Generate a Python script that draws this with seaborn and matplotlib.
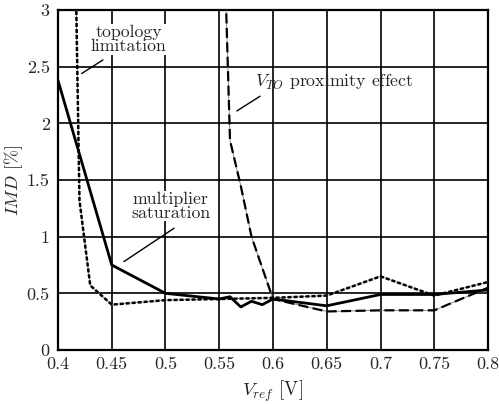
import matplotlib
matplotlib.use("Agg")
import matplotlib.pyplot as plt
import seaborn as sns
import pandas as pd

# Data
x_sat = [0.40, 0.45, 0.50, 0.55, 0.56, 0.57, 0.58, 0.59, 0.60, 0.65, 0.70, 0.75, 0.80]
y_sat = [2.38, 0.75, 0.50, 0.45, 0.47, 0.38, 0.43, 0.40, 0.45, 0.39, 0.49, 0.49, 0.53]

x_top = [0.41, 0.42, 0.43, 0.45, 0.50, 0.55, 0.60, 0.65, 0.70, 0.75, 0.80]
y_top = [7.00, 1.32, 0.57, 0.40, 0.44, 0.45, 0.46, 0.48, 0.65, 0.48, 0.60]

x_vto = [0.55, 0.56, 0.57, 0.58, 0.60, 0.65, 0.70, 0.75, 0.80]
y_vto = [5.10, 1.85, 1.45, 1.00, 0.45, 0.34, 0.35, 0.35, 0.55]

x_ticks = [0.4, 0.45, 0.5, 0.55, 0.6, 0.65, 0.7, 0.75, 0.8]
x_tick_labels = ["0.4", "0.45", "0.5", "0.55", "0.6", "0.65", "0.7", "0.75", "0.8"]
y_ticks = [0, 0.5, 1, 1.5, 2, 2.5, 3]
y_tick_labels = ["0", "0.5", "1", "1.5", "2", "2.5", "3"]

sns.set_style("white")
plt.rcParams["font.family"] = ["serif"]
plt.rcParams["font.serif"] = ["cmr10", "DejaVu Serif"]
plt.rcParams["mathtext.fontset"] = "cm"
plt.rcParams["axes.formatter.use_mathtext"] = True

fig = plt.figure(figsize=(4.99, 4.04), dpi=100)
ax = fig.add_axes([0.1162, 0.1337, 0.978 - 0.1162, 0.975 - 0.1337])

df_sat = pd.DataFrame({"x": x_sat, "y": y_sat})
df_top = pd.DataFrame({"x": x_top, "y": y_top})
df_vto = pd.DataFrame({"x": x_vto, "y": y_vto})

# thin underlying lines visible between dashes
sns.lineplot(data=df_top, x="x", y="y", ax=ax, color="#777777", lw=0.6, zorder=3)
sns.lineplot(data=df_vto, x="x", y="y", ax=ax, color="#777777", lw=0.6, zorder=3)
# dashed curves
sns.lineplot(data=df_top, x="x", y="y", ax=ax, color="black", lw=1.8, zorder=4)
ax.lines[-1].set_dashes([1.6, 0.8])
sns.lineplot(data=df_vto, x="x", y="y", ax=ax, color="black", lw=1.6, zorder=4)
ax.lines[-1].set_dashes([4.5, 2.0])
sns.lineplot(data=df_sat, x="x", y="y", ax=ax, color="black", lw=2.0, zorder=5)

ax.set_xlim(0.4, 0.8)
ax.set_ylim(0, 3)
ax.set_xticks(x_ticks)
ax.set_xticklabels(x_tick_labels)
ax.set_yticks(y_ticks)
ax.set_yticklabels(y_tick_labels)
ax.tick_params(axis="x", length=0, labelsize=13, pad=5)
ax.tick_params(axis="y", length=0, labelsize=13, pad=6)
ax.grid(True, color="black", lw=1.2)
ax.set_axisbelow(True)
for s in ax.spines.values():
    s.set_color("black")
    s.set_linewidth(1.6)

ax.set_xlabel(r"$V_{ref}$ [V]", fontsize=13.5, labelpad=4.5)
ax.set_ylabel(r"$IMD$ [%]", fontsize=13, labelpad=1)

bbox = dict(facecolor="white", edgecolor="none", pad=0.5)
ax.text(0.466, 2.74, "topology\nlimitation", ha="center", va="center",
        fontsize=12.8, linespacing=0.85, zorder=6, bbox=bbox)
ax.plot([0.422, 0.4418], [2.44, 2.56], color="black", lw=1.0, zorder=6)

ax.text(0.505, 1.27, "multiplier\nsaturation", ha="center", va="center",
        fontsize=12.8, linespacing=0.85, zorder=6, bbox=bbox)
ax.plot([0.4613, 0.508], [0.78, 1.075], color="black", lw=1.0, zorder=6)

ax.text(0.583, 2.36, r"$V_{TO}$ proximity effect", ha="left", va="center",
        fontsize=12.8, zorder=6)
ax.plot([0.5664, 0.588], [2.11, 2.24], color="black", lw=1.0, zorder=6)

fig.savefig("out.png", dpi=100)
